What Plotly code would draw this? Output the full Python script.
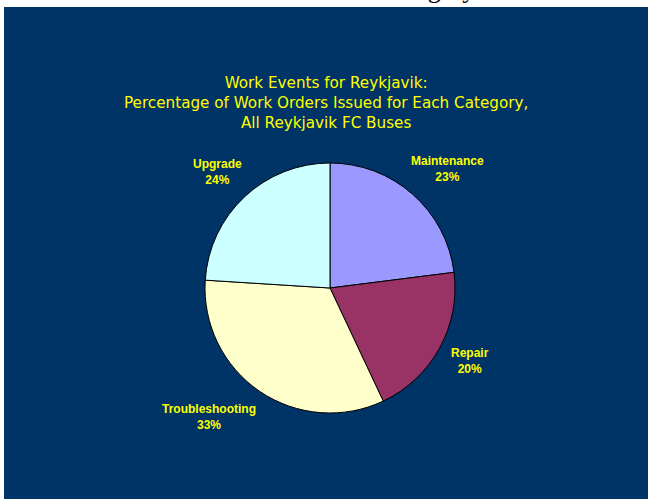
import math
import plotly.graph_objects as go

# Work order categories and their share of all orders (%)
categories = ["Maintenance", "Repair", "Troubleshooting", "Upgrade"]
shares = [23, 20, 33, 24]
slice_colors = ["#9999FF", "#993366", "#FFFFCC", "#CCFFFF"]

title_lines = [
    "Work Events for Reykjavik:",
    "Percentage of Work Orders Issued for Each Category,",
    "All Reykjavik FC Buses",
]

W, H = 648, 499
NAVY = "#003366"
YELLOW = "#FFFF00"

# pie geometry in pixels (top-left origin)
cx, cy, r = 330, 288, 125

# small per-label nudges (px) applied after the radial placement
label_nudge = {
    "Maintenance": (-11, 0),
    "Repair": (0, -10),
    "Troubleshooting": (4, 0),
    "Upgrade": (7, 0),
}


def px_x(x):
    return x / W


def px_y(y):
    return (H - y) / H


fig = go.Figure()

fig.add_trace(go.Pie(
    labels=categories,
    values=shares,
    sort=False,
    direction="clockwise",
    rotation=0,
    marker=dict(colors=slice_colors, line=dict(color="#000000", width=1)),
    textinfo="none",
    hoverinfo="label+percent",
    showlegend=False,
    domain=dict(x=[px_x(cx - r), px_x(cx + r)], y=[px_y(cy + r), px_y(cy - r)]),
))

annotations = []

# category labels placed outside each slice, corner nearest the pie on the mid-angle
total = sum(shares)
cum = 0
label_dist = 136
for name, val in zip(categories, shares):
    mid = (cum + val / 2) / total * 2 * math.pi
    cum += val
    sx, cy_ = math.sin(mid), -math.cos(mid)
    nx, ny = label_nudge.get(name, (0, 0))
    ax = cx + label_dist * sx + nx
    ay = cy + label_dist * cy_ + ny
    annotations.append(dict(
        x=px_x(ax), y=px_y(ay), xref="paper", yref="paper",
        text=f"{name}<br>{round(val / total * 100)}%",
        showarrow=False, align="center",
        xanchor="left" if sx > 0 else "right",
        yanchor="bottom" if cy_ < 0 else "top",
        font=dict(family="Liberation Sans, Arial, sans-serif", size=12,
                  color=YELLOW, weight="bold"),
    ))

# chart title
annotations.append(dict(
    x=px_x(326), y=px_y(72), xref="paper", yref="paper",
    text="<br>".join(title_lines), showarrow=False,
    xanchor="center", yanchor="top", align="center",
    font=dict(family="DejaVu Sans, Verdana, sans-serif", size=15.2, color=YELLOW),
))

# page heading running above the chart panel
annotations.append(dict(
    x=px_x(477), y=px_y(6), xref="paper", yref="paper",
    text="Category", showarrow=False,
    xanchor="right", yanchor="bottom",
    font=dict(family="Liberation Serif, Times New Roman, serif", size=26, color="#000000"),
))

fig.update_layout(
    width=W, height=H,
    margin=dict(l=0, r=0, t=0, b=0),
    paper_bgcolor="#FFFFFF",
    plot_bgcolor="#FFFFFF",
    shapes=[dict(
        type="rect", xref="paper", yref="paper",
        x0=px_x(4), x1=1, y0=0, y1=px_y(7),
        fillcolor=NAVY, line=dict(width=0), layer="below",
    )],
    annotations=annotations,
)

fig.write_html("out.html")
